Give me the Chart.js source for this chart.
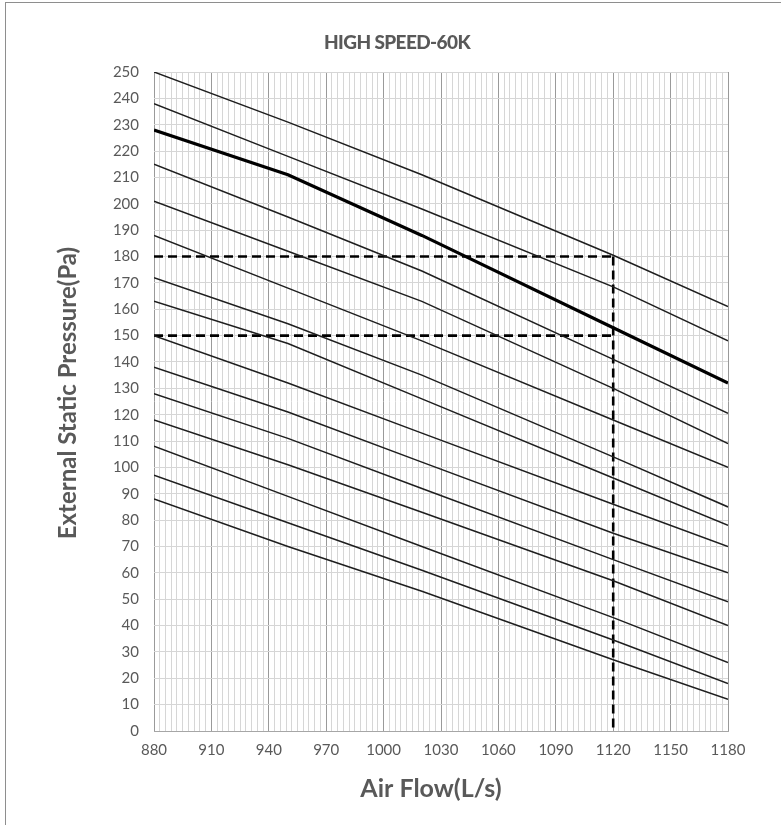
<!DOCTYPE html>
<html><head><meta charset="utf-8">
<script src="https://cdn.jsdelivr.net/npm/chart.js@4.4.1/dist/chart.umd.min.js"></script>
<style>
html,body{margin:0;padding:0;background:#fff;overflow:hidden;}
#frame{position:absolute;left:5px;top:2px;width:900px;height:900px;border-left:1px solid #8e8e8e;border-top:1px solid #8e8e8e;}
#wrap{position:absolute;left:0;top:0;width:781px;height:825px;}
</style></head><body>
<div id="frame"></div>
<div id="wrap"><canvas id="c" width="781" height="825"></canvas></div>
<script>
const chartTitle = 'HIGH SPEED-60K';
const xTitle = 'Air Flow(L/s)';
const yTitle = 'External Static Pressure(Pa)';

const airFlow = [880, 950, 1020, 1120, 1180];
const curve1  = [250, 231, 211, 180.5, 161];
const curve2  = [238, 218, 198, 168.5, 148];
const curve3  = [228, 211, 188, 153, 132];   // bold curve
const curve4  = [215, 195, 174.5, 141, 120.5];
const curve5  = [201, 182, 163, 130, 109];
const curve6  = [188, 168, 148, 118, 100];
const curve7  = [172, 154.5, 135, 104, 85];
const curve8  = [163, 147, 126, 96, 78];
const curve9  = [150, 132, 113, 86, 70];
const curve10 = [138, 121, 102, 75, 60];
const curve11 = [128, 111, 92, 65, 49];
const curve12 = [118, 101, 83, 57, 40];
const curve13 = [108, 89, 70, 43, 26];
const curve14 = [97, 79, 61, 34.5, 18];
const curve15 = [88, 70, 53, 27, 12];

const xTickLabels = [880, 910, 940, 970, 1000, 1030, 1060, 1090, 1120, 1150, 1180];
const yTickLabels = [0,10,20,30,40,50,60,70,80,90,100,110,120,130,140,150,160,170,180,190,200,210,220,230,240,250];
const xMinorStep = 3;

const guideFlow = 1120;
const guidePressures = [180, 150];

const curves = [curve1, curve2, curve3, curve4, curve5, curve6, curve7, curve8,
                curve9, curve10, curve11, curve12, curve13, curve14, curve15];
const boldIndex = 2;

const datasets = curves.map((c, i) => ({
  data: c.map((y, k) => ({x: airFlow[k], y})),
  borderColor: i === boldIndex ? '#000' : '#1e1e1e',
  borderWidth: i === boldIndex ? 3.2 : 1.5,
  pointRadius: 0, tension: 0, fill: false
}));
const dashStyle = {borderColor: '#000', borderWidth: 2.6, borderDash: [9, 5], pointRadius: 0, tension: 0, fill: false};
guidePressures.forEach(p => {
  datasets.push(Object.assign({data: [{x: xTickLabels[0], y: p}, {x: guideFlow, y: p}]}, dashStyle));
});
datasets.push(Object.assign({data: [{x: guideFlow, y: Math.max(...guidePressures)}, {x: guideFlow, y: 0}]}, dashStyle));

const xMin = xTickLabels[0], xMax = xTickLabels[xTickLabels.length - 1];
const xGridValues = [];
for (let v = xMin; v <= xMax; v += xMinorStep) xGridValues.push(v);

const titlesPlugin = {
  id: 'titles',
  afterDraw(chart) {
    const ctx = chart.ctx;
    ctx.save();
    ctx.fillStyle = '#595959';
    ctx.textAlign = 'center';
    ctx.textBaseline = 'middle';
    ctx.font = '900 19px Lato';
    if ('letterSpacing' in ctx) ctx.letterSpacing = '-0.6px';
    ctx.fillText(chartTitle, 397, 43);
    if ('letterSpacing' in ctx) ctx.letterSpacing = '0px';
    ctx.font = 'bold 25px Lato';
    ctx.fillText(xTitle, 431, 789);
    ctx.translate(68, 393);
    ctx.rotate(-Math.PI / 2);
    ctx.font = 'bold 24px Lato';
    ctx.fillText(yTitle, 0, 0);
    ctx.restore();
  }
};

new Chart(document.getElementById('c'), {
  type: 'line',
  data: {datasets},
  plugins: [titlesPlugin],
  options: {
    responsive: false, animation: false, devicePixelRatio: 1,
    layout: {padding: {left: 0, top: 72, right: 53, bottom: 0}},
    plugins: {legend: {display: false}, tooltip: {enabled: false}, title: {display: false}},
    scales: {
      x: {
        type: 'linear', min: xMin, max: xMax,
        afterFit: s => { s.height = 94; },
        afterBuildTicks: s => { s.ticks = xGridValues.map(v => ({value: v})); },
        ticks: {
          autoSkip: false, maxRotation: 0, padding: 10, color: '#595959',
          font: {family: 'Lato', size: 15},
          callback: v => xTickLabels.includes(v) ? String(v) : ''
        },
        grid: {
          drawTicks: false, lineWidth: 1,
          color: ctx => (ctx.tick && xTickLabels.includes(ctx.tick.value)) ? '#9a9a9a' : '#d6d6d6'
        },
        border: {display: true, color: '#a6a6a6'}
      },
      y: {
        type: 'linear', min: yTickLabels[0], max: yTickLabels[yTickLabels.length - 1],
        afterFit: s => { s.width = 154; },
        afterBuildTicks: s => { s.ticks = yTickLabels.map(v => ({value: v})); },
        ticks: {autoSkip: false, padding: 15, color: '#595959', font: {family: 'Lato', size: 15}},
        grid: {drawTicks: false, color: '#d6d6d6', lineWidth: 1},
        border: {display: false}
      }
    }
  }
});
</script>
</body></html>
